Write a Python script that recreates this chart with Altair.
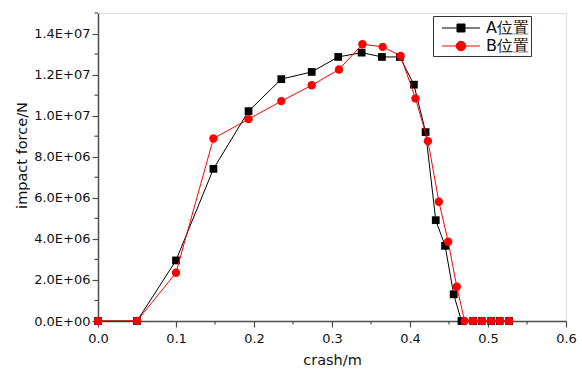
import altair as alt
import pandas as pd

# ---- data ----
series_names = ["A位置", "B位置"]

a_x = [0.0, 0.05, 0.1, 0.148, 0.193, 0.235, 0.274, 0.308, 0.338, 0.364, 0.387,
       0.405, 0.42, 0.433, 0.445, 0.456, 0.466, 0.481, 0.492, 0.504, 0.515, 0.527]
a_y = [0.0, 0.0, 2.95e6, 7.41e6, 10.22e6, 11.78e6, 12.13e6, 12.86e6, 13.07e6, 12.86e6, 12.86e6,
       11.51e6, 9.2e6, 4.91e6, 3.66e6, 1.30e6, 0.0, 0.0, 0.0, 0.0, 0.0, 0.0]

b_x = [0.0, 0.05, 0.1, 0.148, 0.193, 0.235, 0.274, 0.309, 0.339, 0.365, 0.388,
       0.407, 0.423, 0.437, 0.449, 0.46, 0.47, 0.481, 0.492, 0.504, 0.515, 0.527]
b_y = [0.0, 0.0, 2.35e6, 8.89e6, 9.83e6, 10.71e6, 11.48e6, 12.25e6, 13.48e6, 13.35e6, 12.91e6,
       10.84e6, 8.76e6, 5.81e6, 3.86e6, 1.67e6, 0.0, 0.0, 0.0, 0.0, 0.0, 0.0]

x_ticks = [0.0, 0.1, 0.2, 0.3, 0.4, 0.5, 0.6]
x_minor = [0.05, 0.15, 0.25, 0.35, 0.45, 0.55]
y_ticks = [0, 2e6, 4e6, 6e6, 8e6, 10e6, 12e6, 14e6]
y_minor = [1e6, 3e6, 5e6, 7e6, 9e6, 11e6, 13e6, 15e6]
y_labels = ["0.0E+00", "2.0E+06", "4.0E+06", "6.0E+06", "8.0E+06", "1.0E+07", "1.2E+07", "1.4E+07"]

df_a = pd.DataFrame({"x": a_x, "y": a_y})
df_b = pd.DataFrame({"x": b_x, "y": b_y})
df_leg = pd.DataFrame({"series": series_names})
df_xm = pd.DataFrame({"x": x_minor})
df_ym = pd.DataFrame({"y": y_minor})

W, H = 468, 308
FONT = "DejaVu Sans"
AX = "#4d4d4d"

xscale = alt.Scale(domain=[0, 0.6], nice=False, zero=False, padding=0)
yscale = alt.Scale(domain=[0, 1.5e7], nice=False, padding=0)

label_arr = "[" + ",".join("'%s'" % s for s in y_labels) + "]"

xaxis = alt.Axis(values=x_ticks, format=".1f", grid=False, tickSize=6, tickColor=AX,
                 domainColor=AX, domainWidth=1.5, tickWidth=1.2, labelFont=FONT, labelFontSize=13,
                 labelColor="#111", labelPadding=5, labelFlush=False, title="crash/m",
                 titleFont=FONT, titleFontSize=14.5, titleFontWeight="normal", titleColor="#111",
                 titleX=234, titleY=43, titleBaseline="alphabetic", titleAlign="center")
yaxis = alt.Axis(values=y_ticks, labelExpr=label_arr + "[round(datum.value/2000000)]",
                 grid=False, tickSize=6, tickColor=AX, domainColor=AX, domainWidth=1.5,
                 tickWidth=1.2, labelFont=FONT, labelFontSize=13, labelColor="#111",
                 labelPadding=2, labelFlush=False, title="impact force/N", titleFont=FONT,
                 titleFontSize=14.5, titleFontWeight="normal", titleColor="#111", titleX=-76,
                 titleY=142, titleAngle=-90, titleBaseline="middle", titleAlign="center")

base_a = alt.Chart(df_a)
base_b = alt.Chart(df_b)

line_a = base_a.mark_line(color="black", strokeWidth=1).encode(
    x=alt.X("x:Q", scale=xscale, axis=xaxis), y=alt.Y("y:Q", scale=yscale, axis=yaxis))
pts_a = base_a.mark_point(shape="square", filled=True, color="black", size=60, opacity=1).encode(
    x="x:Q", y="y:Q")
line_b = base_b.mark_line(color="#ff0000", strokeWidth=1).encode(x="x:Q", y="y:Q")
pts_b = base_b.mark_point(shape="circle", filled=True, color="#ff0000", size=70, opacity=1).encode(
    x="x:Q", y="y:Q")

xminor = alt.Chart(df_xm).mark_rule(color=AX, strokeWidth=1.2).encode(
    x="x:Q", y=alt.value(H), y2=alt.value(H + 3.5))
yminor = alt.Chart(df_ym).mark_rule(color=AX, strokeWidth=1.2).encode(
    y="y:Q", x=alt.value(0), x2=alt.value(-3.5))

# legend symbols: a line with a marker on it
sym_a = "M-2,0H2M-0.42,-0.42H0.42V0.42H-0.42Z"
sym_b = "M-2,0H2M-0.5,0A0.5,0.5,0,1,0,0.5,0A0.5,0.5,0,1,0,-0.5,0Z"

legend = alt.Legend(title=None, orient="none", legendX=335, legendY=3,
                    strokeColor="#333", fillColor="white", padding=2,
                    symbolSize=361, symbolStrokeWidth=1, symbolOffset=16,
                    labelFont=FONT, labelFontSize=16, labelColor="#111", labelOffset=15,
                    labelExpr="datum.label + '    '", rowPadding=0, symbolOpacity=1)

leg_layer = alt.Chart(df_leg).mark_point(filled=True).encode(
    fill=alt.Fill("series:N", scale=alt.Scale(domain=series_names, range=["black", "#ff0000"]),
                  legend=legend),
    stroke=alt.Stroke("series:N", scale=alt.Scale(domain=series_names, range=["black", "#ff0000"]),
                      legend=legend),
    shape=alt.Shape("series:N", scale=alt.Scale(domain=series_names, range=[sym_a, sym_b]),
                    legend=legend),
).transform_filter("false")

chart = alt.layer(line_a, pts_a, line_b, pts_b, xminor, yminor, leg_layer).properties(
    width=W, height=H,
    autosize=alt.AutoSizeParams(type="none"),
    padding={"left": 98, "top": 13, "right": 16, "bottom": 49},
).configure_view(stroke=None).configure(background="white")

chart.save("out.html", embed_options={"renderer": "svg", "actions": False})
